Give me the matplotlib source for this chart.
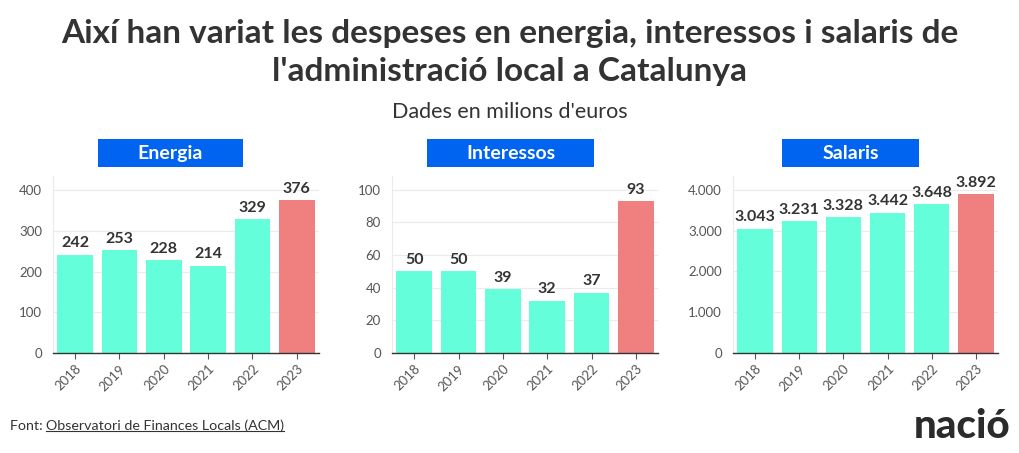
import matplotlib
matplotlib.use('Agg')
import matplotlib.pyplot as plt
from matplotlib.lines import Line2D

plt.rcParams['font.family'] = ['Lato', 'DejaVu Sans']

years = ['2018', '2019', '2020', '2021', '2022', '2023']
energia = [242, 253, 228, 214, 329, 376]
interessos = [50, 50, 39, 32, 37, 93]
salaris = [3043, 3231, 3328, 3442, 3648, 3892]

panels = ['Energia', 'Interessos', 'Salaris']
ymax = [435, 108.5, 4340]
yticks = [[0, 100, 200, 300, 400], [0, 20, 40, 60, 80, 100], [0, 1000, 2000, 3000, 4000]]

teal = '#64ffda'
red = '#f08080'
blue = '#0064f0'
dark = '#333333'

W, H = 1020, 453
fig = plt.figure(figsize=(W / 100, H / 100), dpi=100)

def fmt(v):
    return f'{v:,}'.replace(',', '.')

# axes boxes in pixels: left, top, right, bottom
boxes = [(53, 176, 319, 353), (392, 176, 658, 353), (733, 176, 998, 353)]
title_boxes = [(98, 139, 243, 167), (427, 139, 594, 167), (782, 139, 919, 167)]

for i, data in enumerate([energia, interessos, salaris]):
    l, t, r, b = boxes[i]
    ax = fig.add_axes([l / W, 1 - b / H, (r - l) / W, (b - t) / H])
    cols = [teal] * 5 + [red]
    ax.bar(range(len(years)), data, width=0.8, color=cols, zorder=2)
    for j, v in enumerate(data):
        ax.text(j, v + ymax[i] * 0.025, fmt(v), ha='center', va='bottom',
                fontsize=11.5, fontweight='bold', color=dark)
    ax.set_xlim(-0.5, 5.5)
    ax.set_ylim(0, ymax[i])
    ax.set_yticks(yticks[i])
    ax.set_yticklabels([fmt(v) for v in yticks[i]])
    ax.set_xticks(range(len(years)))
    ax.set_xticklabels(years, rotation=45, ha='right', rotation_mode='anchor')
    ax.tick_params(axis='y', length=0, labelsize=9.5, labelcolor='#555555', pad=8)
    ax.tick_params(axis='x', length=4, color='#555555', labelsize=9.5, labelcolor='#555555', pad=3)
    ax.grid(axis='y', color='#ebebeb', lw=0.8, zorder=0)
    for s in ['top', 'right']:
        ax.spines[s].set_visible(False)
    ax.spines['left'].set_color('#ebebeb')
    ax.spines['bottom'].set_color('#333333')
    ax.spines['bottom'].set_linewidth(1)

    tl, tt, tr, tb = title_boxes[i]
    tax = fig.add_axes([tl / W, 1 - tb / H, (tr - tl) / W, (tb - tt) / H])
    tax.set_facecolor(blue)
    tax.set_xticks([])
    tax.set_yticks([])
    for s in tax.spines.values():
        s.set_visible(False)
    tax.text(0.5, 0.48, panels[i], ha='center', va='center', color='white',
             fontsize=14, fontweight='bold', transform=tax.transAxes)

fig.text(0.5, 1 - 33 / H, "Així han variat les despeses en energia, interessos i salaris de",
         ha='center', va='center', fontsize=24, fontweight='bold', color=dark)
fig.text(0.5, 1 - 72 / H, "l'administració local a Catalunya",
         ha='center', va='center', fontsize=24, fontweight='bold', color=dark)
fig.text(0.5, 1 - 112 / H, "Dades en milions d'euros", ha='center', va='center',
         fontsize=15.5, color=dark)

t1 = fig.text(10 / W, 1 - 426 / H, 'Font: ', ha='left', va='center', fontsize=10.3, color=dark)
fig.canvas.draw()
rend = fig.canvas.get_renderer()
e1 = t1.get_window_extent(rend)
t2 = fig.text(e1.x1 / W, 1 - 426 / H, 'Observatori de Finances Locals (ACM)', ha='left',
              va='center', fontsize=10.3, color=dark)
e2 = t2.get_window_extent(rend)
uy = (e2.y0 + 1) / H
fig.add_artist(Line2D([e2.x0 / W, e2.x1 / W], [uy, uy], color=dark, lw=0.8,
                      transform=fig.transFigure))

fig.text(1010 / W, 1 - 427 / H, 'nació', ha='right', va='center', fontsize=29,
         fontweight='black', color='#2b2b2b')

fig.savefig('out.png', dpi=100)
